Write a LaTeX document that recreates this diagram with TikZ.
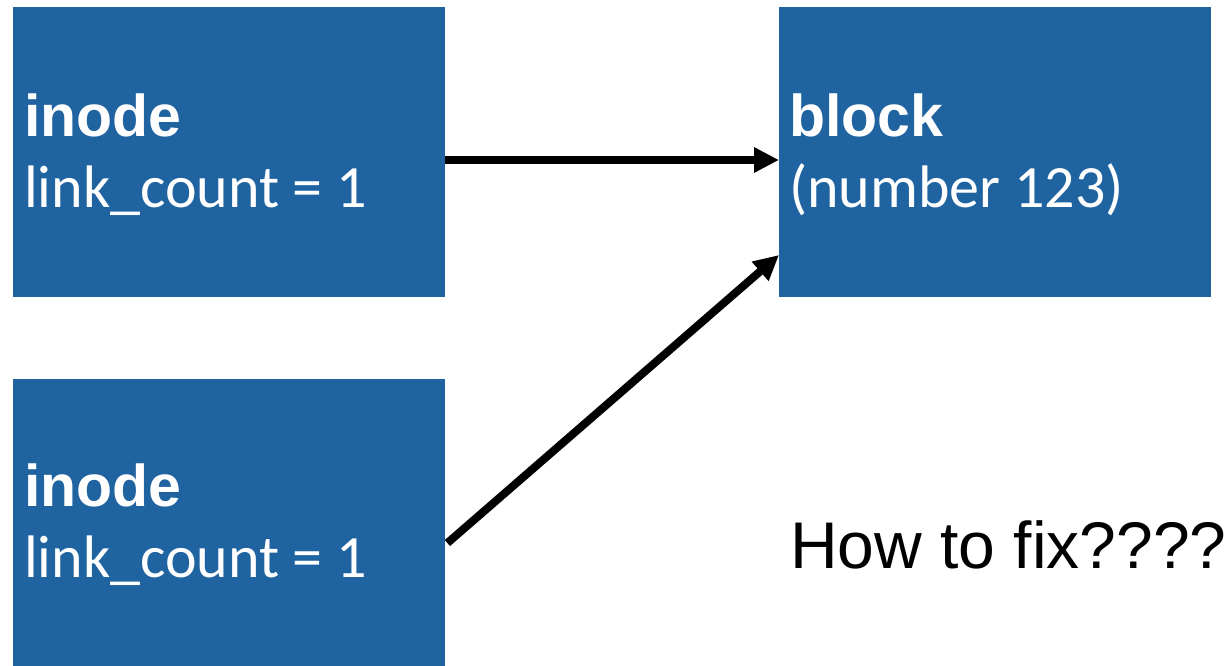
\documentclass[tikz,border=0pt]{standalone}
\usepackage{fontspec}
\setmainfont{Liberation Sans}
\newfontfamily\calfont{Carlito}
\usetikzlibrary{arrows.meta}
\definecolor{boxblue}{RGB}{31,99,161}
\tikzset{
  blockbox/.style={fill=boxblue, draw=none, anchor=north west, inner sep=0pt,
    minimum width=432pt, minimum height=290pt},
  titletext/.style={anchor=base west, inner sep=0pt, text=white,
    font=\fontsize{59}{61}\selectfont\bfseries},
  bodytext/.style={anchor=base west, inner sep=0pt, text=white,
    font=\calfont\fontsize{60}{62}\selectfont},
  link/.style={line width=8pt, -{Triangle[length=25pt,width=24pt]}},
}
\begin{document}
\begin{tikzpicture}[x=1pt,y=-1pt]
  \useasboundingbox (0,0) rectangle (1231,666);
  % the three boxes
  \node[blockbox] (ia) at (13,7) {};
  \node[blockbox] (ib) at (13,379) {};
  \node[blockbox] (blk) at (779,7) {};
  % box labels
  \node[titletext] (iat) at ([xshift=11pt,yshift=-129pt]ia.north west) {inode};
  \node[bodytext]  (iab) at ([xshift=11pt,yshift=-200pt]ia.north west) {link\_count = 1};
  \node[titletext] (ibt) at ([xshift=11pt,yshift=-127pt]ib.north west) {inode};
  \node[bodytext]  (ibb) at ([xshift=11pt,yshift=-198pt]ib.north west) {link\_count = 1};
  \node[titletext] (blt) at ([xshift=10pt,yshift=-129pt]blk.north west) {block};
  \node[bodytext]  (blb) at ([xshift=10pt,yshift=-200pt]blk.north west) {(number 123)};
  % question
  \node[anchor=base west, inner sep=0pt, font=\fontsize{66}{68}\selectfont] (q) at (790,568) {How to fix????};
  % pointers to the block
  \draw[link] ([yshift=-153pt]ia.north east) -- ([yshift=-153pt]blk.north west);
  \draw[link] ([xshift=2pt,yshift=-164pt]ib.north east) -- ([yshift=-248pt]blk.north west);
\end{tikzpicture}
\end{document}
